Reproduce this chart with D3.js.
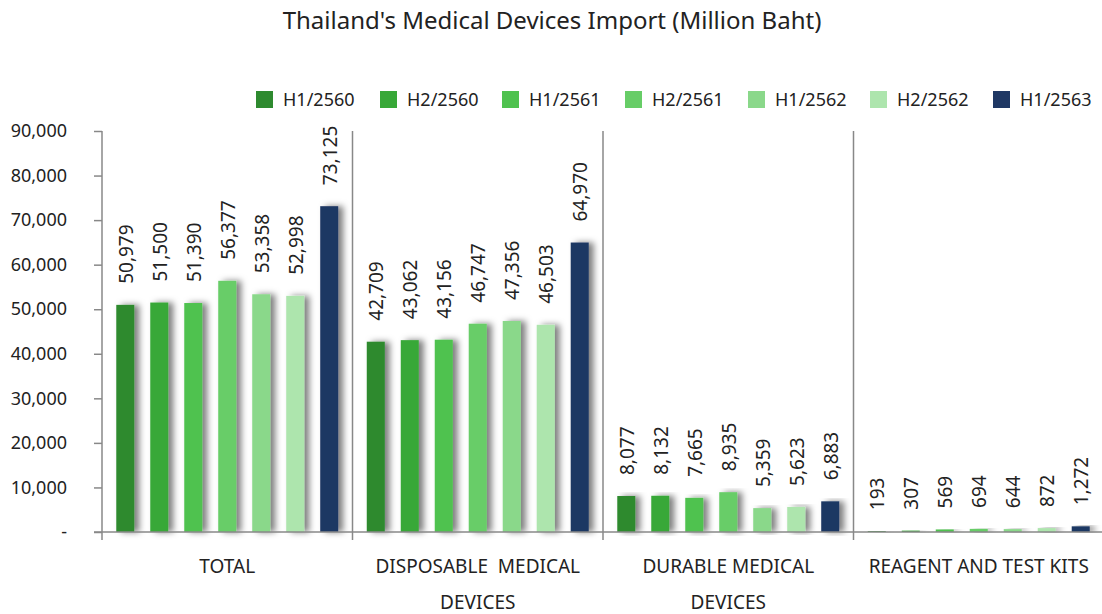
<!DOCTYPE html>
<html>
<head>
<meta charset="utf-8">
<script src="https://d3js.org/d3.v7.min.js"></script>
<style>
  body { margin: 0; background: #fff; }
  text { font-family: "Noto Sans", "Open Sans", sans-serif; fill: #222; }
</style>
</head>
<body>
<script>
// Chart data
var categories = ["TOTAL", "DISPOSABLE  MEDICAL DEVICES", "DURABLE MEDICAL DEVICES", "REAGENT AND TEST KITS"];
var categoryLines = [["TOTAL"], ["DISPOSABLE  MEDICAL", "DEVICES"], ["DURABLE MEDICAL", "DEVICES"], ["REAGENT AND TEST KITS"]];
var series = ["H1/2560", "H2/2560", "H1/2561", "H2/2561", "H1/2562", "H2/2562", "H1/2563"];
var colors = ["#2e8a2f", "#38a838", "#4fc24f", "#67cd67", "#8ad88a", "#ade5ad", "#1f3864"];
var values = [
  [50979, 51500, 51390, 56377, 53358, 52998, 73125],
  [42709, 43062, 43156, 46747, 47356, 46503, 64970],
  [8077, 8132, 7665, 8935, 5359, 5623, 6883],
  [193, 307, 569, 694, 644, 872, 1272]
];
var yTicks = [0, 10000, 20000, 30000, 40000, 50000, 60000, 70000, 80000, 90000];

var svgWidth = 1102, svgHeight = 614;
var margin = { top: 131, right: 0, bottom: 82, left: 102 };
var width = svgWidth - margin.left - margin.right;
var height = svgHeight - margin.top - margin.bottom;

var svg = d3.select("body").append("svg")
  .attr("width", svgWidth)
  .attr("height", svgHeight);

// soft shadow to the right of each bar
var defs = svg.append("defs");
var filter = defs.append("filter").attr("id", "shadow")
  .attr("x", "-30%").attr("y", "-10%").attr("width", "200%").attr("height", "120%");
filter.append("feDropShadow")
  .attr("dx", 5).attr("dy", 0).attr("stdDeviation", 3)
  .attr("flood-color", "#000").attr("flood-opacity", 0.5);

// title
svg.append("text")
  .attr("x", 552)
  .attr("y", 29)
  .attr("text-anchor", "middle")
  .attr("font-size", "24px")
  .attr("fill", "#333")
  .text("Thailand's Medical Devices Import (Million Baht)");

var chartGroup = svg.append("g")
  .attr("transform", `translate(${margin.left}, ${margin.top})`);

var groupWidth = 250.5;
var x0 = d3.scaleBand()
  .domain(categories)
  .range([0, groupWidth * categories.length])
  .padding(0);

var x1 = d3.scaleBand()
  .domain(series)
  .range([0, groupWidth])
  .paddingInner(0.47)
  .paddingOuter(0.42);

var y = d3.scaleLinear()
  .domain([0, 90000])
  .range([height, 0]);

var fmt = d3.format(",");

// y axis
var leftAxis = d3.axisLeft(y)
  .tickValues(yTicks)
  .tickSize(8)
  .tickFormat(d => d === 0 ? "-" : fmt(d));

var yAxis = chartGroup.append("g").call(leftAxis);
yAxis.select(".domain").remove();
yAxis.selectAll(".tick line").attr("stroke", "#888").attr("stroke-width", 1.5);
yAxis.selectAll(".tick text")
  .attr("x", -35)
  .attr("font-size", "18px")
  .style("font-family", '"Noto Sans", sans-serif')
  .attr("fill", "#222");

// dividers between groups
var bounds = d3.range(categories.length).map(i => i * groupWidth);
chartGroup.selectAll(".divider")
  .data(bounds)
  .enter()
  .append("line")
  .attr("x1", d => d).attr("x2", d => d)
  .attr("y1", 0).attr("y2", height + 8)
  .attr("stroke", "#888")
  .attr("stroke-width", 1.5);

// bars
var groups = chartGroup.selectAll(".cat")
  .data(categories)
  .enter()
  .append("g")
  .attr("transform", d => `translate(${x0(d)}, 0)`);

groups.each(function(cat, ci) {
  var g = d3.select(this);
  var rows = series.map((s, si) => ({ s: s, v: values[ci][si], c: colors[si] }));

  g.selectAll("rect")
    .data(rows)
    .enter()
    .append("rect")
    .attr("x", d => x1(d.s))
    .attr("y", d => y(d.v))
    .attr("width", x1.bandwidth())
    .attr("height", d => height - y(d.v))
    .attr("fill", d => d.c)
    .attr("filter", "url(#shadow)");

  g.selectAll(".val")
    .data(rows)
    .enter()
    .append("text")
    .attr("class", "val")
    .attr("transform", d => `translate(${x1(d.s) + x1.bandwidth() / 2 + 7.5}, ${y(d.v) - 21}) rotate(-90)`)
    .attr("font-size", "19px")
    .attr("fill", "#222")
    .text(d => fmt(d.v));
});

// x axis line
chartGroup.append("line")
  .attr("x1", -8).attr("x2", width)
  .attr("y1", height).attr("y2", height)
  .attr("stroke", "#888")
  .attr("stroke-width", 1.5);

// category labels
categories.forEach(function(cat, ci) {
  var cx = x0(cat) + groupWidth / 2;
  categoryLines[ci].forEach(function(line, li) {
    chartGroup.append("text")
      .attr("x", cx)
      .attr("y", height + 41 + li * 36)
      .attr("text-anchor", "middle")
      .attr("font-size", "19px")
      .attr("fill", "#111")
      .style("white-space", "pre")
      .text(line);
  });
});

// legend
var legendX = [256, 380, 502, 625, 748, 870, 993];
var legend = svg.append("g");
series.forEach(function(s, i) {
  legend.append("rect")
    .attr("x", legendX[i]).attr("y", 91)
    .attr("width", 17).attr("height", 17)
    .attr("fill", colors[i]);
  legend.append("text")
    .attr("x", legendX[i] + 27)
    .attr("y", 106)
    .attr("font-size", "18px")
    .text(s);
});
</script>
</body>
</html>
